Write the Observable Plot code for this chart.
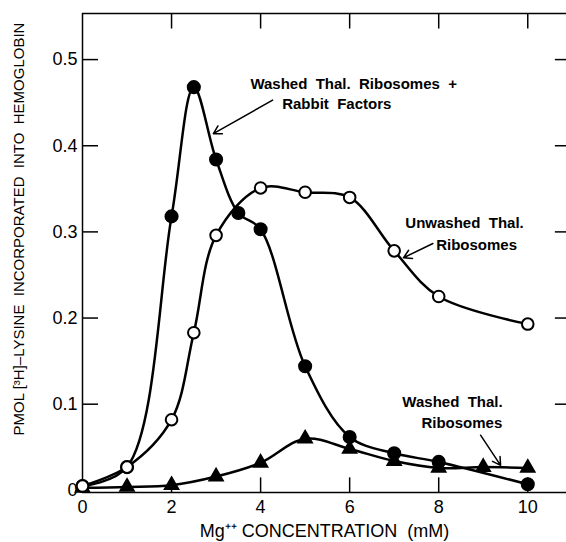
<!DOCTYPE html>
<html>
<head>
<meta charset="utf-8">
<script src="https://cdn.jsdelivr.net/npm/d3@7"></script>
<script src="https://cdn.jsdelivr.net/npm/@observablehq/plot@0.6"></script>
<style>
  html, body { margin: 0; padding: 0; background: #fff; }
</style>
</head>
<body>
<div id="chart"></div>
<script>
// Washed Thal. Ribosomes + Rabbit Factors (filled circles)
const filledX = [0, 1, 2, 2.5, 3, 3.5, 4, 5, 6, 7, 8, 10];
const filledY = [0.005, 0.027, 0.318, 0.468, 0.384, 0.322, 0.303, 0.144, 0.062, 0.043, 0.033, 0.007];
// Unwashed Thal. Ribosomes (open circles)
const openX = [0, 1, 2, 2.5, 3, 4, 5, 6, 7, 8, 10];
const openY = [0.005, 0.027, 0.082, 0.183, 0.296, 0.351, 0.346, 0.340, 0.278, 0.225, 0.193];
// Washed Thal. Ribosomes (triangles)
const triX = [0, 1, 2, 3, 4, 5, 6, 7, 8, 9, 10];
const triY = [0.003, 0.004, 0.006, 0.016, 0.032, 0.060, 0.048, 0.034, 0.026, 0.027, 0.026];

const xTickValues = [0, 2, 4, 6, 8, 10];
const yTickValues = [0, 0.1, 0.2, 0.3, 0.4, 0.5];

const xTitle = "Mg\u207A\u207A CONCENTRATION  (mM)";
const yTitle = "PMOL [\u00B3H]\u2013LYSINE  INCORPORATED  INTO  HEMOGLOBIN";

// annotation labels (data units)
const noteText = ["Washed  Thal.  Ribosomes  +", "Rabbit  Factors",
                  "Unwashed  Thal.", "Ribosomes",
                  "Washed  Thal.", "Ribosomes"];
const noteX = [6.09, 5.71, 8.58, 8.85, 8.31, 8.52];
const noteY = [0.472, 0.448, 0.310, 0.284, 0.102, 0.078];
const arrowX1 = [4.27, 7.87, 8.94];
const arrowY1 = [0.453, 0.2865, 0.064];
const arrowX2 = [2.94, 7.21, 9.39];
const arrowY2 = [0.414, 0.270, 0.029];

const toRows = (xs, ys) => xs.map((x, i) => ({x, y: ys[i]}));
const filled = toRows(filledX, filledY);
const open = toRows(openX, openY);
const tri = toRows(triX, triY);
const notes = noteText.map((t, i) => ({t, x: noteX[i], y: noteY[i]}));
const arrows = arrowX1.map((x1, i) => ({x1, y1: arrowY1[i], x2: arrowX2[i], y2: arrowY2[i]}));

const xDom = [0, 10.87];
const yDom = [-0.0025, 0.5535];

const chart = Plot.plot({
  width: 566,
  height: 542,
  marginLeft: 82,
  marginRight: 0,
  marginTop: 13,
  marginBottom: 50,
  style: {fontFamily: "Liberation Sans, Arial, sans-serif", fontSize: "15px", color: "black", background: "white"},
  x: {domain: xDom, axis: null},
  y: {domain: yDom, axis: null},
  marks: [
    // frame (left, top, bottom)
    Plot.ruleX([xDom[0]], {stroke: "black", strokeWidth: 1.5}),
    Plot.ruleY([yDom[0], yDom[1]], {stroke: "black", strokeWidth: 1.5}),
    // inward ticks
    Plot.ruleY(yTickValues.slice(1), {y: d => d, x1: 0, x2: 0.36, stroke: "black", strokeWidth: 1.5}),
    Plot.ruleY(yTickValues.slice(1), {y: d => d, x1: 10.62, x2: 10.87, stroke: "black", strokeWidth: 1.5}),
    Plot.ruleX(xTickValues.slice(1), {x: d => d, y1: yDom[1], y2: yDom[1] - 0.018, stroke: "black", strokeWidth: 1.5}),
    Plot.ruleX(xTickValues.slice(1), {x: d => d, y1: yDom[0], y2: yDom[0] + 0.017, stroke: "black", strokeWidth: 1.5}),
    // tick labels
    Plot.axisX({ticks: xTickValues, tickSize: 0, tickPadding: 8, label: null, tickFormat: d => String(d), fontSize: 18}),
    Plot.axisY({ticks: yTickValues, tickSize: 0, tickPadding: 5, label: null, tickFormat: d => d === 0 ? "0" : d.toFixed(1), fontSize: 18}),
    // axis titles
    Plot.text([xTitle], {frameAnchor: "bottom", textAnchor: "middle", dy: 44, fontSize: 18, fill: "black"}),
    Plot.text([yTitle], {frameAnchor: "left", textAnchor: "middle", rotate: -90, dx: -63, dy: -24, fontSize: 15, fill: "black"}),
    // curves
    Plot.line(tri, {x: "x", y: "y", curve: "catmull-rom", stroke: "black", strokeWidth: 2.5}),
    Plot.line(open, {x: "x", y: "y", curve: "catmull-rom", stroke: "black", strokeWidth: 2.5}),
    Plot.line(filled, {x: "x", y: "y", curve: "catmull-rom", stroke: "black", strokeWidth: 2.5}),
    // markers
    Plot.dot(tri, {x: "x", y: "y", symbol: "triangle", r: 5.3, fill: "black", stroke: "black"}),
    Plot.dot(filled, {x: "x", y: "y", r: 6.3, fill: "black", stroke: "black"}),
    Plot.dot(open, {x: "x", y: "y", r: 5.8, fill: "white", stroke: "black", strokeWidth: 2}),
    // annotations
    Plot.arrow(arrows, {x1: "x1", y1: "y1", x2: "x2", y2: "y2", stroke: "black", strokeWidth: 1.5, headLength: 9}),
    Plot.text(notes, {x: "x", y: "y", text: "t", fontSize: 15, fontWeight: "bold", fill: "black"})
  ]
});
document.getElementById("chart").appendChild(chart);
</script>
</body>
</html>
